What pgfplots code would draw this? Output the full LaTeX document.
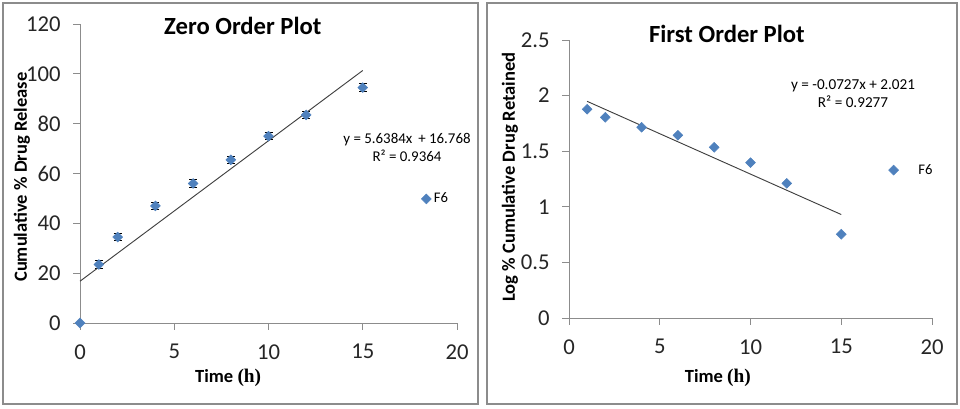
\documentclass[border=0pt]{standalone}
\usepackage{pgfplots}
\pgfplotsset{compat=1.18}
\usepackage{fontspec}
\setmainfont{Carlito}
\newfontfamily\timesfont{Liberation Serif}
\definecolor{excelblue}{HTML}{4F81BD}
\definecolor{framegray}{HTML}{8C8C8C}

\pgfplotstableread{
t   rel    err
0   0      0
1   23.5   1.5
2   34.5   1.5
4   47.0   1.5
6   56.0   1.5
8   65.5   1.5
10  75.0   1.5
12  83.5   1.5
15  94.5   1.5
}\zeroorder

\pgfplotstableread{
t   logret
1   1.877
2   1.805
4   1.715
6   1.643
8   1.535
10  1.397
12  1.211
15  0.753
}\firstorder

\pgfplotsset{
  panel/.style={
    scale only axis,
    axis lines*=left,
    axis line style={draw=black!45, line width=0.6pt},
    tick style={draw=black!45, line width=0.6pt},
    tick align=outside,
    major tick length=5pt,
    xmin=0, xmax=20,
    xtick={0,5,...,20},
    /pgf/number format/assume math mode=true,
    ticklabel style={font=\fontsize{17}{17}\selectfont, text=black!85},
    xticklabel style={yshift=-7.5pt},
    yticklabel style={xshift=-6pt},
    label style={font=\bfseries\fontsize{13.9}{13.9}\selectfont},
    title style={font=\bfseries\fontsize{18.5}{18.5}\selectfont, anchor=center, yshift=-6pt},
    legend style={draw=none, fill=none, anchor=west,
      font=\fontsize{11}{11}\selectfont, inner sep=0pt},
    clip=false,
  },
  diam/.style={only marks, mark=square*, mark size=2.6pt,
    mark options={rotate=45, fill=excelblue, draw=excelblue}},
}

\begin{document}
\begin{tikzpicture}
% frames of the two panels
\draw[framegray, line width=1.5pt] (2.25pt,3pt) rectangle (358.5pt,303.75pt);
\draw[framegray, line width=1.5pt] (365.25pt,3pt) rectangle (717.75pt,303.75pt);
\path (0pt,0pt) rectangle (720pt,306pt);

\begin{axis}[panel,
  at={(60pt,63.75pt)}, anchor=south west,
  width=282.75pt, height=224.25pt,
  ymin=0, ymax=120, ytick={0,20,...,120},
  title={Zero Order Plot},
  title style={at={(0.432,0.993)}},
  xlabel={Time {\timesfont\fontsize{14.5}{14.5}\selectfont(h)}},
  xlabel style={at={(0.393,-0.184)}, anchor=center},
  ylabel={Cumulative \% Drug Release},
  ylabel style={at={(-0.154,0.488)}, anchor=center},
  legend image code/.code={
    \path[draw=none, fill=none] (0pt,-3pt) rectangle (7pt,3pt);
    \draw[#1] plot coordinates {(3.5pt,0pt)};
  },
  legend style={at={(0.905,0.415)}},
]
\addplot[diam, error bars/.cd, y dir=both, y explicit,
  error mark=|,
  error bar style={black, line width=0.7pt},
  error mark options={black, line width=0.7pt, mark size=3pt}]
  table[x=t, y=rel, y error=err] {\zeroorder};
\addlegendentry{F6}
\addplot[black!75, line width=0.7pt, forget plot]
  coordinates {(0,16.768) (15,101.344)};
\node[font=\fontsize{11.2}{13.5}\selectfont, align=center]
  at (axis cs:17.35,70.6) {y = 5.6384x \,+ 16.768\\R² = 0.9364};
\end{axis}

\begin{axis}[panel,
  at={(426.75pt,67.5pt)}, anchor=south west,
  width=272.25pt, height=208.5pt,
  ymin=0, ymax=2.5, ytick={0,0.5,...,2.5},
  title={First Order Plot},
  title style={at={(0.435,1.022)}},
  xlabel={Time {\timesfont\fontsize{14.5}{14.5}\selectfont(h)}},
  xlabel style={at={(0.41,-0.216)}, anchor=center},
  ylabel={Log \% Cumulative Drug Retained},
  ylabel style={at={(-0.163,0.507)}, anchor=center},
  legend image code/.code={
    \path[draw=none, fill=none] (0pt,-3pt) rectangle (20pt,3pt);
    \draw[#1] plot coordinates {(3.5pt,0pt)};
  },
  legend style={at={(0.88,0.532)}},
]
\addplot[diam] table[x=t, y=logret] {\firstorder};
\addlegendentry{F6}
\addplot[black!75, line width=0.7pt, forget plot]
  coordinates {(1,1.9483) (15,0.9305)};
\node[font=\fontsize{11.4}{13.5}\selectfont, align=center]
  at (axis cs:15.65,2.014) {y = -0.0727x + 2.021\\R² = 0.9277};
\end{axis}
\end{tikzpicture}
\end{document}
